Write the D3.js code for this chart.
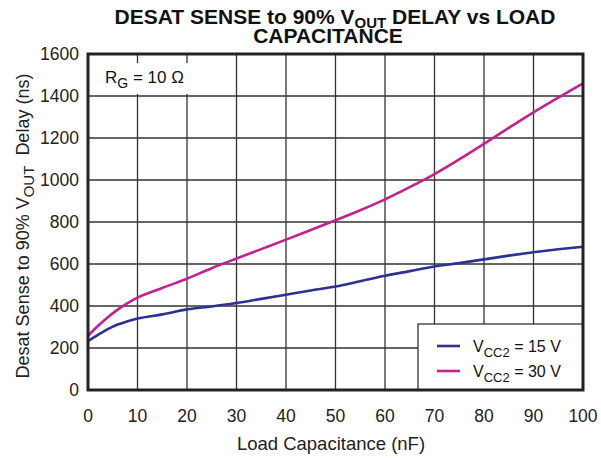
<!DOCTYPE html>
<html>
<head>
<meta charset="utf-8">
<script src="https://cdn.jsdelivr.net/npm/d3@7"></script>
<style>
  body { margin: 0; background: #fff; }
  svg { font-family: "Liberation Sans", Arial, sans-serif; }
</style>
</head>
<body>
<svg id="chart" width="601" height="458"></svg>
<script>
// load capacitance (nF)
const loadCap = [0, 2, 4, 6, 8, 10, 15, 20, 25, 30, 35, 40, 45, 50, 55, 60, 65, 70, 75, 80, 85, 90, 95, 100];
// VCC2 = 15 V
const delay15 = [232, 262, 290, 312, 327, 340, 360, 384, 398, 414, 434, 454, 474, 493, 518, 544, 566, 588, 604, 622, 640, 656, 670, 682];
// VCC2 = 30 V
const delay30 = [258, 305, 347, 383, 414, 440, 486, 530, 580, 626, 671, 716, 762, 808, 856, 908, 966, 1028, 1098, 1172, 1248, 1322, 1392, 1460];

const xTicks = [0, 10, 20, 30, 40, 50, 60, 70, 80, 90, 100];
const yTicks = [0, 200, 400, 600, 800, 1000, 1200, 1400, 1600];

const series = [
  { name: "15 V", values: delay15, color: "#2e3192" },
  { name: "30 V", values: delay30, color: "#c4208f" }
];

const svg = d3.select("#chart");
const m = { left: 88, right: 583, top: 54, bottom: 390 };

const x = d3.scaleLinear().domain([0, 100]).range([m.left, m.right]);
const y = d3.scaleLinear().domain([0, 1600]).range([m.bottom, m.top]);

// grid
const grid = svg.append("g").attr("stroke", "#333").attr("stroke-width", 1.3);
grid.selectAll("line.v")
  .data(xTicks.slice(1, -1))
  .enter().append("line")
  .attr("x1", d => x(d)).attr("x2", d => x(d))
  .attr("y1", m.top).attr("y2", m.bottom);
grid.selectAll("line.h")
  .data(yTicks.slice(1, -1))
  .enter().append("line")
  .attr("y1", d => y(d)).attr("y2", d => y(d))
  .attr("x1", m.left).attr("x2", m.right);

// curves
const line = d3.line()
  .x((d, i) => x(loadCap[i]))
  .y(d => y(d))
  .curve(d3.curveMonotoneX);

svg.selectAll("path.curve")
  .data(series)
  .enter().append("path")
  .attr("fill", "none")
  .attr("stroke", d => d.color)
  .attr("stroke-width", 2.6)
  .attr("d", d => line(d.values));

// RG annotation (white box over grid)
svg.append("rect")
  .attr("x", 90).attr("y", 63).attr("width", 106).attr("height", 31)
  .attr("fill", "#fff");
const rg = svg.append("text")
  .attr("x", 105).attr("y", 83)
  .attr("font-size", 17)
  .attr("fill", "#111");
rg.append("tspan").text("R");
rg.append("tspan").attr("font-size", 14).attr("dy", 5).text("G");
rg.append("tspan").attr("dy", -5).text(" = 10 \u03A9");

// legend
const lg = svg.append("g");
lg.append("rect")
  .attr("x", 418).attr("y", 324).attr("width", 165).attr("height", 66)
  .attr("fill", "#fff")
  .attr("stroke", "#333")
  .attr("stroke-width", 1.3);
series.forEach((s, i) => {
  const ly = 346 + i * 25;
  lg.append("line")
    .attr("x1", 437).attr("x2", 460)
    .attr("y1", ly).attr("y2", ly)
    .attr("stroke", s.color)
    .attr("stroke-width", 2.6);
  const lt = lg.append("text")
    .attr("x", 473).attr("y", ly + 6)
    .attr("font-size", 16)
    .attr("fill", "#111");
  lt.append("tspan").text("V");
  lt.append("tspan").attr("font-size", 13).attr("dy", 5).text("CC2");
  lt.append("tspan").attr("dy", -5).text(" = " + s.name);
});

// frame
svg.append("rect")
  .attr("x", m.left).attr("y", m.top)
  .attr("width", m.right - m.left).attr("height", m.bottom - m.top)
  .attr("fill", "none")
  .attr("stroke", "#222")
  .attr("stroke-width", 3);

// tick labels
svg.append("g").selectAll("text")
  .data(xTicks)
  .enter().append("text")
  .attr("x", d => x(d)).attr("y", 422)
  .attr("text-anchor", "middle")
  .attr("font-size", 17.5)
  .attr("fill", "#222")
  .text(d => d);

svg.append("g").selectAll("text")
  .data(yTicks)
  .enter().append("text")
  .attr("x", 79).attr("y", d => y(d) + 6)
  .attr("text-anchor", "end")
  .attr("font-size", 17.5)
  .attr("fill", "#222")
  .text(d => d);

// axis titles
svg.append("text")
  .attr("x", 331).attr("y", 450)
  .attr("text-anchor", "middle")
  .attr("font-size", 18.5)
  .attr("fill", "#222")
  .text("Load Capacitance (nF)");

const yt = svg.append("text")
  .attr("transform", "translate(29,226) rotate(-90)")
  .attr("text-anchor", "middle")
  .attr("font-size", 18)
  .attr("fill", "#222");
yt.append("tspan").text("Desat Sense to 90% V");
yt.append("tspan").attr("font-size", 15).attr("dy", 5).text("OUT");
yt.append("tspan").attr("dy", -5).attr("dx", 5).text(" Delay (ns)");

// title
const t1 = svg.append("text")
  .attr("x", 335).attr("y", 24)
  .attr("text-anchor", "middle")
  .attr("font-size", 21)
  .attr("font-weight", "bold")
  .attr("fill", "#111");
t1.append("tspan").text("DESAT SENSE to 90% V");
t1.append("tspan").attr("font-size", 15).attr("dy", 4).text("OUT");
t1.append("tspan").attr("dy", -4).text(" DELAY vs LOAD");

svg.append("text")
  .attr("x", 328).attr("y", 43)
  .attr("text-anchor", "middle")
  .attr("font-size", 21)
  .attr("font-weight", "bold")
  .attr("fill", "#111")
  .text("CAPACITANCE");
</script>
</body>
</html>
